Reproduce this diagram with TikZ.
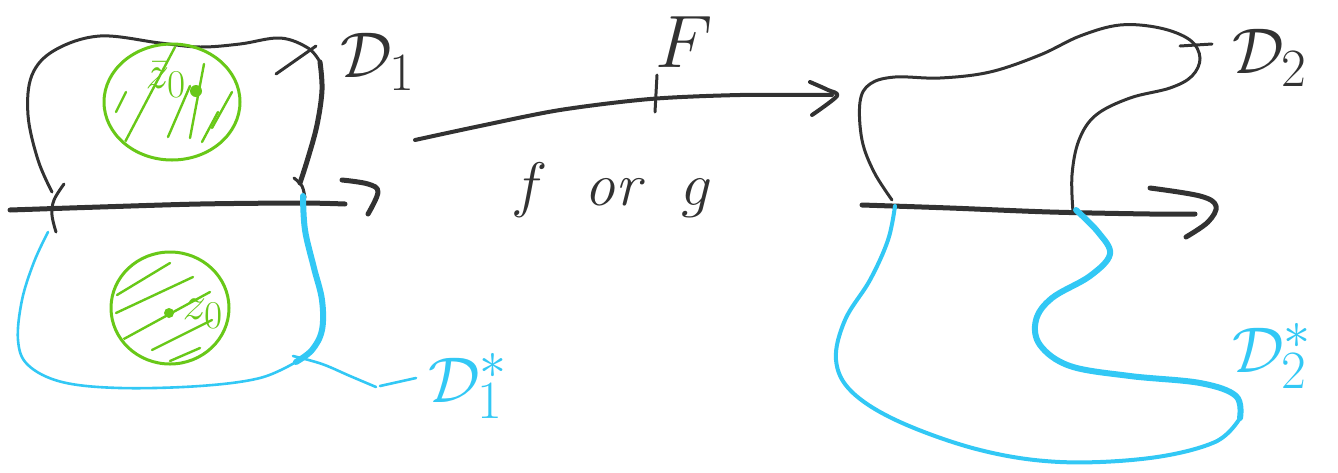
\documentclass[tikz,border=0pt]{standalone}
\usetikzlibrary{arrows.meta}
\definecolor{ink}{RGB}{50,50,50}
\definecolor{sky}{RGB}{50,200,245}
\definecolor{leaf}{RGB}{104,200,24}
\tikzset{
  base/.style={line cap=round,line join=round},
  inkthin/.style={base,draw=ink,line width=3pt},
  inkthick/.style={base,draw=ink,line width=5pt},
  skythin/.style={base,draw=sky,line width=2.6pt},
  skymid/.style={base,draw=sky,line width=4pt},
  skythick/.style={base,draw=sky,line width=6pt},
  leafline/.style={base,draw=leaf,line width=3pt},
  hatch/.style={base,draw=leaf,line width=2.4pt},
  lab/.style={inner sep=0pt,font=\Huge,scale=2.6},
  zlab/.style={inner sep=0pt,font=\Huge,scale=1.9,text=leaf},
}
\begin{document}
\begin{tikzpicture}[x=1pt,y=-1pt]
\useasboundingbox (0,0) rectangle (1338,472);

% ---------- left picture ----------
\draw[inkthin] plot[smooth,tension=0.6] coordinates {(52,192) (38,160) (28,115) (32,75) (55,50) (100,36) (160,43) (200,47) (240,44) (280,38) (308,48) (320,62)};
\draw[inkthick] plot[smooth,tension=0.6] coordinates {(320,62) (322,90) (317,125) (308,158) (300,183)};
\draw[inkthin] (276,74) -- (316,46);
\coordinate (axL0) at (10,210);
\coordinate (axL1) at (345,204);
\draw[inkthick] plot[smooth,tension=0.5] coordinates {(axL0) (100,207) (200,204) (300,203) (axL1)};
\draw[inkthick] plot[smooth,tension=0.6] coordinates {(342,180) (368,184) (378,192) (368,214)};
\draw[inkthin] plot[smooth,tension=0.6] coordinates {(64,184) (54,200) (52,215) (56,232)};
\draw[inkthin] plot[smooth,tension=0.6] coordinates {(294,178) (302,186) (305,198)};
\draw[skythin] plot[smooth,tension=0.6] coordinates {(48,232) (34,262) (22,300) (18,340) (28,365) (62,382) (120,388) (200,386) (260,378) (296,362)};
\draw[skythick] plot[smooth,tension=0.6] coordinates {(303,196) (305,230) (314,268) (322,300) (322,330) (312,350) (296,362)};
\draw[skythin] plot[smooth,tension=0.6] coordinates {(293,356) (322,364) (350,376) (376,387)};
\draw[skythin] (380,386) -- (416,378);

% green disks
\coordinate (cU) at (172,102);
\draw[leafline] (cU) ellipse [x radius=68, y radius=58];
\begin{scope}
\clip (cU) ellipse [x radius=66, y radius=56];
\draw[hatch] (125,142) -- (175,47);
\draw[hatch] (116,112) -- (126,92);
\draw[hatch] (168,137) -- (190,86);
\draw[hatch] (190,138) -- (204,64);
\draw[hatch] (202,142) -- (218,112);
\draw[hatch] (212,128) -- (232,92);
\end{scope}
\fill[leaf] (196,91) circle (6);
\node[zlab] (zU) at (166,80) {$\bar z_0$};

\coordinate (cL) at (170,308);
\draw[leafline] (cL) ellipse [x radius=59, y radius=56];
\begin{scope}
\clip (cL) ellipse [x radius=57, y radius=54];
\draw[hatch] (117,295) -- (170,263);
\draw[hatch] (116,313) -- (193,277);
\draw[hatch] (122,340) -- (210,292);
\draw[hatch] (152,350) -- (212,320);
\draw[hatch] (170,361) -- (200,348);
\end{scope}
\fill[leaf] (169,313) circle (5);
\node[zlab] (zL) at (203,314) {$z_0$};

\node[lab,text=ink] (D1) at (378,62) {$\mathcal{D}_1$};
\node[lab,text=sky] (D1s) at (468,386) {$\mathcal{D}^{*}_{1}$};

% ---------- F arrow ----------
\coordinate (Fs) at (415,140);
\coordinate (Fe) at (832,95);
\draw[inkthin,line width=4pt] plot[smooth,tension=0.5] coordinates {(Fs) (480,126) (560,110) (650,99) (740,95) (Fe)};
\draw[inkthin,line width=4pt] plot[smooth,tension=0.5] coordinates {(810,82) (828,90) (837,96) (812,115)};
\draw[inkthin] (657,75) -- (655,112);
\node[lab,text=ink,scale=1.15] (F) at (684,42) {$F$};
\node[lab,text=ink,scale=0.95] (fg) at (612,190) {$f$ \ \textit{or} \ $g$};

% ---------- right picture ----------
\draw[inkthin] plot[smooth,tension=0.6] coordinates {(892,200) (874,172) (862,140) (860,102) (870,84) (895,77) (940,78) (990,72) (1040,55) (1080,36) (1120,25) (1160,28) (1190,40) (1200,58) (1192,76) (1170,88) (1130,98) (1096,115) (1079,140) (1072,175) (1073,212)};
\draw[inkthin] (1180,46) -- (1212,44);
\coordinate (axR0) at (862,205);
\coordinate (axR1) at (1195,214);
\draw[inkthick] plot[smooth,tension=0.5] coordinates {(axR0) (950,208) (1050,212) (1150,214) (axR1)};
\draw[inkthick] plot[smooth,tension=0.6] coordinates {(1150,188) (1200,196) (1216,206) (1208,222) (1186,237)};
\draw[skymid] plot[smooth,tension=0.6] coordinates {(895,206) (888,240) (870,280) (845,320) (836,360) (852,392) (900,422) (980,450) (1060,462) (1150,458) (1215,442) (1240,418)};
\draw[skythick] plot[smooth,tension=0.6] coordinates {(1240,418) (1236,396) (1200,383) (1130,376) (1070,366) (1040,345) (1036,320) (1052,298) (1090,276) (1110,254) (1098,232) (1076,210)};

\node[lab,text=ink] (D2) at (1270,58) {$\mathcal{D}_2$};
\node[lab,text=sky] (D2s) at (1272,356) {$\mathcal{D}^{*}_{2}$};
\end{tikzpicture}
\end{document}
